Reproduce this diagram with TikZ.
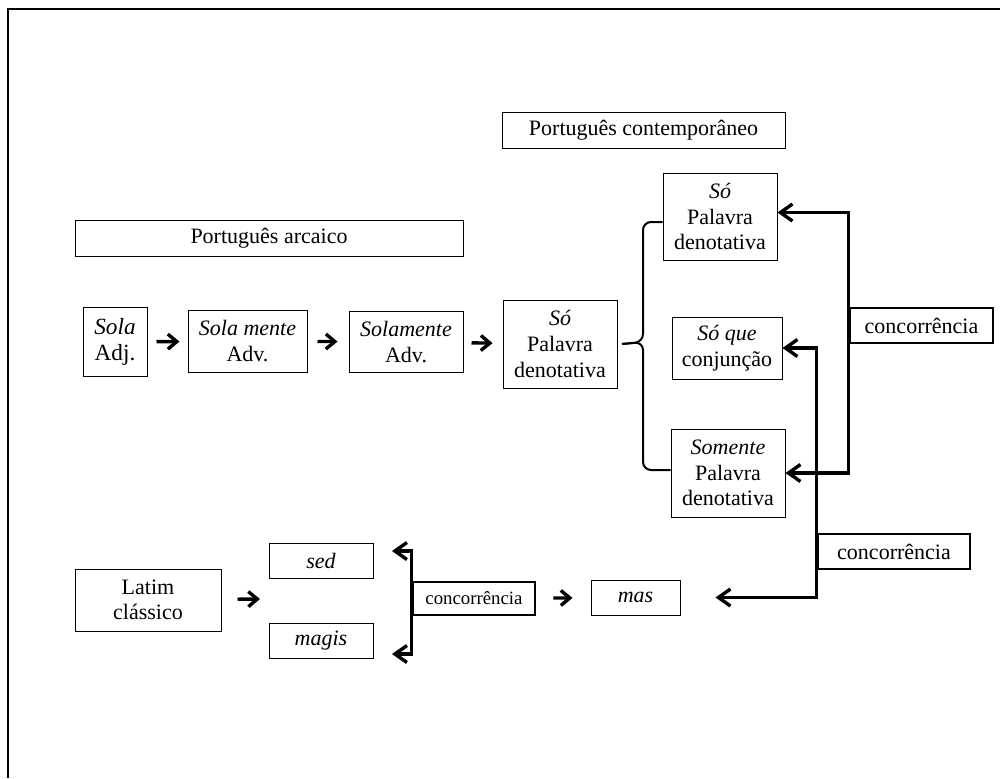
\documentclass[tikz,border=0pt]{standalone}
\usepackage{fontspec}
\setmainfont{Liberation Serif}
\usetikzlibrary{arrows.meta}

\begin{document}
\begin{tikzpicture}[x=0.5pt,y=-0.5pt,
  box/.style={draw,line width=0.5pt,inner sep=0pt,align=center,
    font=\fontsize{11}{12.8}\selectfont},
  conc/.style={box,line width=1.3pt},
  flow/.style={line width=1.7pt,-{Straight Barb[length=4.5pt,width=7.5pt]}},
  link/.style={line width=1.7pt,-{Straight Barb[length=6pt,width=8.5pt]}}]
  \useasboundingbox (0,0) rectangle (1000,778);
  \draw[line width=1pt] (1000,9) -- (8,9) -- (8,778);

  \node[box,minimum width=141.5pt,minimum height=18pt] (contemp) at (643.5,130) {Português contemporâneo};
  \node[box,minimum width=194pt,minimum height=18pt] (arcaico) at (269,238) {Português arcaico};

  \node[box,minimum width=32pt,minimum height=34.5pt,font=\fontsize{11.6}{12.8}\selectfont] (sola) at (115,342) {\textit{Sola}\\Adj.};
  \node[box,minimum width=59.5pt,minimum height=31pt] (solamente) at (247.5,341) {\textit{Sola mente}\\Adv.};
  \node[box,minimum width=57pt,minimum height=30.5pt] (solamenteb) at (406,342) {\textit{Solamente}\\Adv.};
  \node[box,minimum width=57pt,minimum height=44pt] (so) at (560,344) {\textit{Só}\\Palavra\\denotativa};

  \node[box,minimum width=57pt,minimum height=43.5pt] (sotop) at (720,216.5) {\textit{Só}\\Palavra\\denotativa};
  \node[box,minimum width=55pt,minimum height=31pt] (soque) at (727,348) {\textit{Só que}\\conjunção};
  \node[box,minimum width=57pt,minimum height=44pt] (somente) at (728,473) {\textit{Somente}\\Palavra\\denotativa};

  \node[conc,minimum width=71.5pt,minimum height=17.5pt] (concA) at (921.5,325.5) {concorrência};
  \node[conc,minimum width=76pt,minimum height=17.5pt] (concB) at (894,551.5) {concorrência};

  \node[box,minimum width=73pt,minimum height=31pt] (latim) at (148,600) {Latim\\clássico};
  \node[box,minimum width=52pt,minimum height=17.5pt] (sed) at (321,560.5) {\textit{sed}};
  \node[box,minimum width=52pt,minimum height=17.5pt] (magis) at (321,640.5) {\textit{magis}};
  \node[conc,minimum width=61pt,minimum height=16.5pt,font=\fontsize{9.4}{11}\selectfont] (concC) at (474,598.5) {concorrência};
  \node[box,minimum width=44.5pt,minimum height=17.5pt] (mas) at (635.5,597.5) {\textit{mas}};

  \coordinate (split) at (260,599);
  \coordinate (sedin) at (392,551);
  \coordinate (magisin) at (392,654);
  \coordinate (cusp) at (643,342);

  \draw[flow,shorten <=4.5pt,shorten >=4pt] (sola) -- (solamente);
  \draw[flow,shorten <=5pt,shorten >=5.5pt] (solamente) -- (solamenteb);
  \draw[flow,shorten <=4pt,shorten >=5pt] (solamenteb) -- (so);
  \draw[flow,shorten <=8pt] (latim) -- (split);
  \draw[flow,shorten <=8.5pt,shorten >=9pt] (concC) -- (mas);

  \draw[line width=1pt,rounded corners=4pt] ([yshift=-2.75pt]sotop.west) -| (cusp) -- (so.east -| 622,0);
  \draw[line width=1pt,rounded corners=4pt] (so.east -| 622,0) -- (cusp) |- ([yshift=1.5pt]somente.west);

  \draw[link] (concA.west) |- ([yshift=2pt]sotop.east);
  \draw[link] (concA.west) |- (somente.east);
  \draw[link] (concB.west) |- (soque.east);
  \draw[link,shorten >=17.5pt] (concB.west) |- (mas.east);
  \draw[link] (concC.west) |- (sedin);
  \draw[link] (concC.west) |- (magisin);
\end{tikzpicture}
\end{document}
